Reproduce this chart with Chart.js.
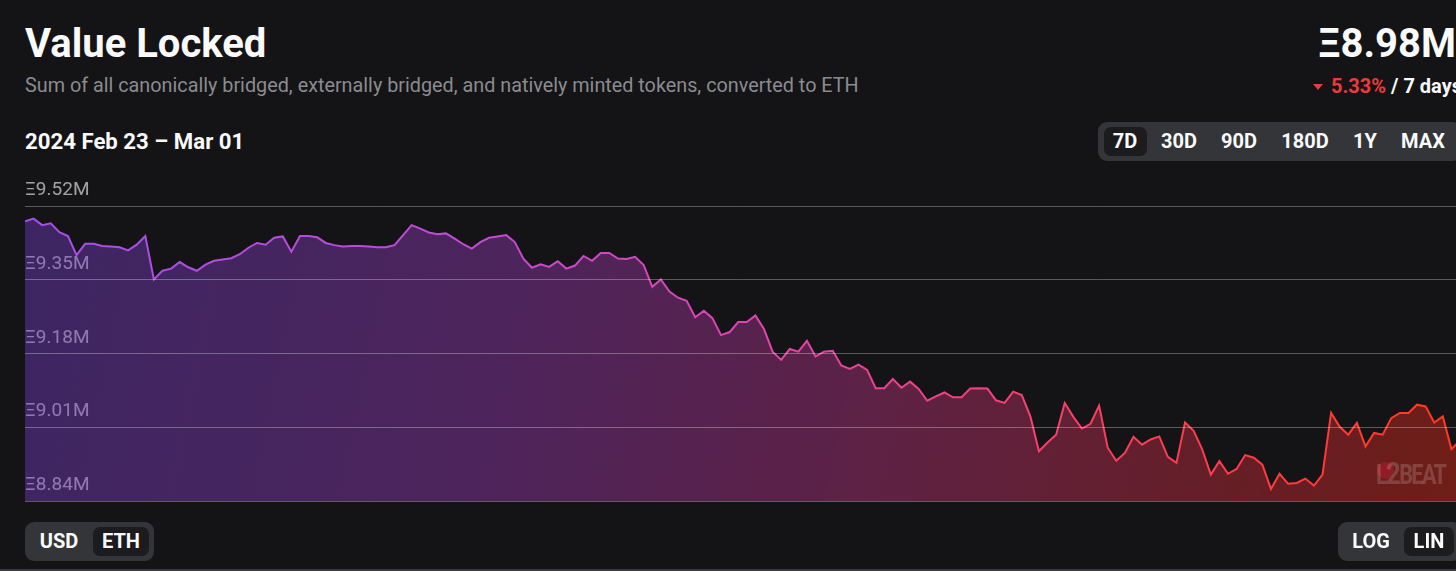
<!DOCTYPE html>
<html>
<head>
<meta charset="utf-8">
<title>Value Locked</title>
<script src="https://cdn.jsdelivr.net/npm/chart.js@4.4.1/dist/chart.umd.min.js"></script>
<style>
  html, body {
    margin: 0;
    padding: 0;
    width: 1456px;
    height: 571px;
    overflow: hidden;
    background: #141416;
    font-family: Roboto, "Noto Sans", sans-serif;
    color: #fafafa;
  }
  .abs { position: absolute; white-space: nowrap; }
  .title { left: 25px; top: 24px; font: 700 40px/40px Roboto; }
  .subtitle { left: 25px; top: 76px; font: 400 19.8px/20px Roboto; color: #8b8b8f; }
  .range { left: 25px; top: 130px; font: 700 22.2px/22px Roboto; }
  .total { right: 0px; top: 24px; font: 700 40px/40px Roboto; text-align: right; }
  .change { right: -6px; top: 76px; font: 700 20px/20px Roboto; text-align: right; }
  .change .down { color: #ef3a3b; }
  .tri {
    display: inline-block; width: 0; height: 0;
    border-left: 5px solid transparent; border-right: 5px solid transparent;
    border-top: 6px solid #ef3a3b; margin-right: 8px; vertical-align: 3px;
  }
  .group { position: absolute; height: 39px; background: #333539; border-radius: 9px; }
  .group .on { position: absolute; top: 5px; height: 29px; background: #1c1c1e; border-radius: 7px; }
  .group .btn {
    position: absolute; top: 0; height: 39px; line-height: 39px; width: 80px;
    margin-left: -40px; text-align: center; font: 700 20px/39px Roboto; color: #fafafa;
  }
  #chartBox { position: absolute; left: 25px; top: 170px; width: 1435px; height: 343px; }
  .mark { left: 1376px; top: 458px; }
  .mark .dot { position: absolute; left: 1px; top: 4px; width: 17px; height: 17px; border-radius: 50%; background: rgba(190, 30, 50, 0.45); }
  .mark .txt { position: relative; font: 700 27px/30px Roboto; color: rgba(255, 255, 255, 0.17); letter-spacing: -2px; transform: scaleX(0.8); transform-origin: left top; display: inline-block; }
  .rule { position: absolute; left: 0; top: 569px; width: 1456px; height: 2px; background: #3a3a3e; }
</style>
</head>
<body>
  <div class="abs title">Value Locked</div>
  <div class="abs subtitle">Sum of all canonically bridged, externally bridged, and natively minted tokens, converted to ETH</div>
  <div class="abs range">2024 Feb 23 – Mar 01</div>
  <div class="abs total">Ξ8.98M</div>
  <div class="abs change"><span class="tri"></span><span class="down">5.33%</span> / 7 days</div>

  <div class="group" style="left:1098px; top:122px; width:364px;">
    <div class="on" style="left:6px; width:43px;"></div>
    <span class="btn" style="left:27px;">7D</span>
    <span class="btn" style="left:81px;">30D</span>
    <span class="btn" style="left:141px;">90D</span>
    <span class="btn" style="left:207px;">180D</span>
    <span class="btn" style="left:267px;">1Y</span>
    <span class="btn" style="left:325px;">MAX</span>
  </div>

  <div id="chartBox"><canvas id="tvlChart"></canvas></div>

  <div class="abs mark"><div class="dot"></div><span class="txt">L<span style="font-size:32px">2</span>BEAT</span></div>

  <div class="group" style="left:25px; top:522px; width:129px;">
    <div class="on" style="left:68px; width:56px;"></div>
    <span class="btn" style="left:34px;">USD</span>
    <span class="btn" style="left:96px;">ETH</span>
  </div>
  <div class="group" style="left:1338px; top:522px; width:124px;">
    <div class="on" style="left:66px; width:50px;"></div>
    <span class="btn" style="left:33px;">LOG</span>
    <span class="btn" style="left:91px;">LIN</span>
  </div>
  <div class="rule"></div>

<script>
// hourly value locked, in millions of ETH (2024 Feb 23 - Mar 01)
const tvlEth = [
  9.485, 9.491, 9.476, 9.480, 9.460, 9.451, 9.407, 9.433, 9.433, 9.428,
  9.427, 9.425, 9.418, 9.431, 9.451, 9.351, 9.371, 9.376, 9.391, 9.379,
  9.371, 9.385, 9.394, 9.397, 9.400, 9.409, 9.424, 9.435, 9.431, 9.447,
  9.450, 9.415, 9.451, 9.451, 9.448, 9.435, 9.430, 9.427, 9.428, 9.428,
  9.427, 9.425, 9.425, 9.430, 9.453, 9.476, 9.468, 9.459, 9.455, 9.457,
  9.445, 9.432, 9.422, 9.437, 9.447, 9.450, 9.453, 9.437, 9.399, 9.378,
  9.386, 9.380, 9.393, 9.376, 9.383, 9.405, 9.394, 9.412, 9.412, 9.399,
  9.398, 9.403, 9.384, 9.334, 9.351, 9.323, 9.309, 9.302, 9.264, 9.279,
  9.262, 9.223, 9.230, 9.253, 9.253, 9.268, 9.237, 9.185, 9.166, 9.191,
  9.185, 9.210, 9.174, 9.185, 9.187, 9.153, 9.145, 9.155, 9.143, 9.101,
  9.101, 9.122, 9.102, 9.116, 9.099, 9.072, 9.082, 9.091, 9.080, 9.080,
  9.100, 9.101, 9.100, 9.073, 9.067, 9.093, 9.085, 9.036, 8.956, 8.976,
  8.994, 9.067, 9.035, 9.008, 9.019, 9.061, 8.964, 8.934, 8.952, 8.989,
  8.971, 8.983, 8.990, 8.943, 8.929, 9.022, 9.003, 8.960, 8.902, 8.933,
  8.904, 8.915, 8.947, 8.941, 8.925, 8.869, 8.904, 8.881, 8.883, 8.893,
  8.877, 8.902, 9.044, 9.012, 8.994, 9.021, 8.967, 8.998, 8.994, 9.032,
  9.044, 9.044, 9.063, 9.059, 9.022, 9.036, 8.961, 8.980
];

// y axis tick labels (millions of ETH)
const yTicks = [8.84, 9.01, 9.18, 9.35, 9.52];

// one label per hour, starting Feb 23 00:00
const hours = [];
const start = new Date(2024, 1, 23, 0, 0);
for (let i = 0; i < tvlEth.length; i++) {
  const d = new Date(start.getTime() + i * 3600 * 1000);
  hours.push(d.toLocaleString('en-US', { month: 'short', day: '2-digit', hour: '2-digit', minute: '2-digit', hour12: false }));
}

function lineGradient(chart) {
  const { ctx, chartArea } = chart;
  if (!chartArea) return '#a24ee6';
  const g = ctx.createLinearGradient(chartArea.left, 0, chartArea.right, 0);
  g.addColorStop(0, '#a34fe8');
  g.addColorStop(0.3, '#c14bd6');
  g.addColorStop(0.5, '#df44b0');
  g.addColorStop(0.7, '#f4416e');
  g.addColorStop(0.85, '#ff3b45');
  g.addColorStop(1, '#ff3a1e');
  return g;
}

function fillGradient(chart) {
  const { ctx, chartArea } = chart;
  if (!chartArea) return 'rgba(120,67,207,0.4)';
  const g = ctx.createLinearGradient(chartArea.left, chartArea.top, chartArea.right, chartArea.bottom);
  g.addColorStop(0, 'rgba(118, 64, 206, 0.42)');
  g.addColorStop(0.35, 'rgba(160, 60, 190, 0.42)');
  g.addColorStop(0.6, 'rgba(205, 55, 140, 0.40)');
  g.addColorStop(0.85, 'rgba(225, 45, 60, 0.40)');
  g.addColorStop(1, 'rgba(240, 45, 25, 0.42)');
  return g;
}

const ctx = document.getElementById('tvlChart').getContext('2d');

new Chart(ctx, {
  type: 'line',
  data: {
    labels: hours,
    datasets: [{
      label: 'Value Locked',
      data: tvlEth,
      borderColor: (c) => lineGradient(c.chart),
      backgroundColor: (c) => fillGradient(c.chart),
      borderWidth: 2,
      pointRadius: 0,
      tension: 0,
      fill: 'start'
    }]
  },
  options: {
    responsive: true,
    maintainAspectRatio: false,
    animation: false,
    layout: { padding: { top: 36, bottom: 0, left: 0, right: 0 } },
    scales: {
      x: {
        type: 'category',
        display: false,
        offset: false
      },
      y: {
        min: yTicks[0],
        max: yTicks[yTicks.length - 1],
        afterBuildTicks: (axis) => { axis.ticks = yTicks.map(v => ({ value: v })); },
        border: { display: false },
        grid: {
          color: 'rgba(255, 255, 255, 0.3)',
          lineWidth: 1,
          drawTicks: false,
          z: 1
        },
        ticks: {
          mirror: true,
          padding: 0,
          labelOffset: -16,
          color: 'rgba(255, 255, 255, 0.6)',
          font: { family: 'Roboto', size: 19 },
          callback: (v) => 'Ξ' + Number(v).toFixed(2) + 'M'
        }
      }
    },
    plugins: {
      legend: { display: false },
      tooltip: { enabled: false }
    }
  }
});
</script>
</body>
</html>
